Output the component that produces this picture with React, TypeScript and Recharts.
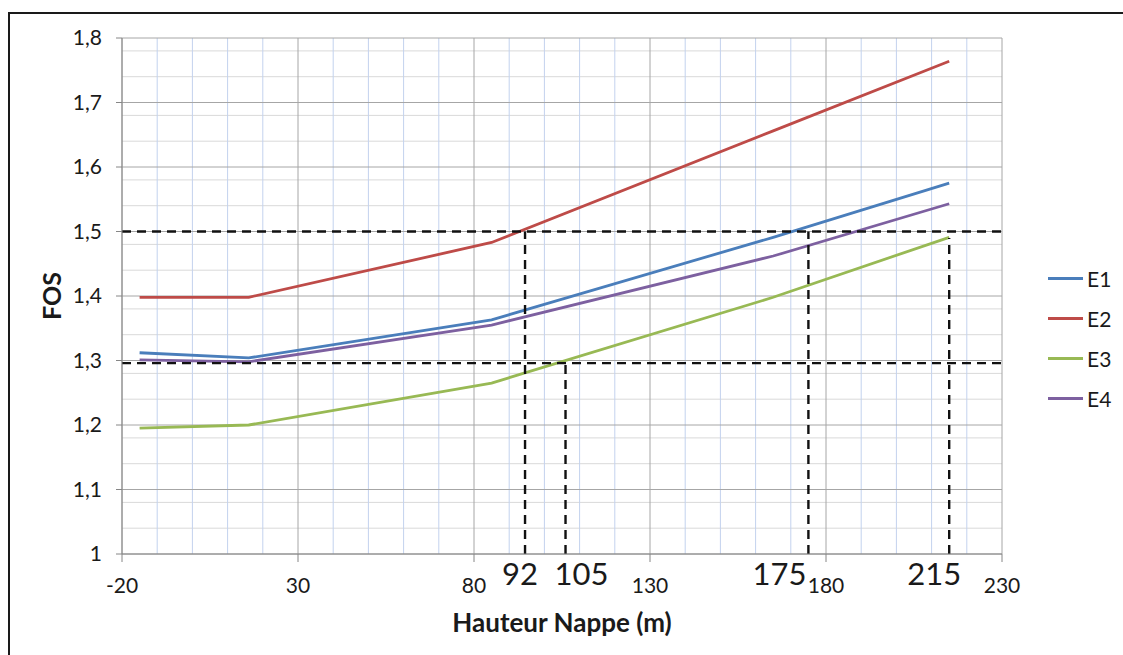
import {
  LineChart,
  Line,
  XAxis,
  YAxis,
  CartesianGrid,
  ReferenceLine,
  Legend,
} from "recharts";

// Hauteur nappe (m) for each computed point
const hauteur = [-15, 16, 85, 165, 215];
// FOS per scenario
const e1 = [1.312, 1.304, 1.363, 1.491, 1.575];
const e2 = [1.398, 1.398, 1.483, 1.656, 1.764];
const e3 = [1.195, 1.2, 1.265, 1.398, 1.491];
const e4 = [1.301, 1.298, 1.355, 1.462, 1.543];

const xTicks = [-20, 30, 80, 130, 180, 230];
const yTicks = [1, 1.1, 1.2, 1.3, 1.4, 1.5, 1.6, 1.7, 1.8];
const xMinor = [
  -10, 0, 10, 20, 40, 50, 60, 70, 90, 100, 110, 120, 140, 150, 160, 170, 190,
  200, 210, 220,
];
const yMinor = [
  1.02, 1.04, 1.06, 1.08, 1.12, 1.14, 1.16, 1.18, 1.22, 1.24, 1.26, 1.28,
  1.32, 1.34, 1.36, 1.38, 1.42, 1.44, 1.46, 1.48, 1.52, 1.54, 1.56, 1.58,
  1.62, 1.64, 1.66, 1.68, 1.72, 1.74, 1.76, 1.78,
];

// dashed threshold lines (FOS) and read-off heights
const seuils = [1.5, 1.296];
const repereX = [94.5, 106, 175, 215];
const repereHaut = [1.5, 1.296, 1.5, 1.49];
const repereLabels = ["92", "105", "175", "215"];

const series = [
  { key: "E1", color: "#4a7ebb" },
  { key: "E2", color: "#be4b48" },
  { key: "E3", color: "#98b954" },
  { key: "E4", color: "#7d60a0" },
];

const data = hauteur.map((h, i) => ({
  h,
  E1: e1[i],
  E2: e2[i],
  E3: e3[i],
  E4: e4[i],
}));

const font = "Lato, 'Open Sans', sans-serif";
const labelShift = [-5, 16, -29, -15];

const fmt = (v: number) => String(v).replace(".", ",");

function LegendBox() {
  return (
    <div style={{ fontFamily: font, fontSize: 21, color: "#1a1a1a" }}>
      {series.map((s) => (
        <div
          key={s.key}
          style={{ display: "flex", alignItems: "center", height: 40 }}>
          <span
            style={{
              display: "inline-block",
              width: 35,
              height: 3,
              background: s.color,
              marginRight: 4,
            }}
          />
          {s.key}
        </div>
      ))}
    </div>
  );
}

export default function App() {
  return (
    <div
      style={{
        position: "absolute",
        left: 0,
        top: 0,
        width: 1123,
        height: 655,
        overflow: "hidden",
        background: "#fff",
      }}>
      <div
        style={{
          position: "absolute",
          left: 8,
          top: 12,
          width: 1140,
          height: 680,
          border: "2px solid #1a1a1a",
        }}
      />
      <div style={{ position: "absolute", left: 0, top: 0 }}>
        <LineChart
          width={1123}
          height={655}
          data={data}
          margin={{ top: 38, right: 121, bottom: 61, left: 62 }}>
          <CartesianGrid
            horizontal
            vertical={false}
            horizontalValues={yMinor}
            stroke="#d9d9d9"
            strokeWidth={1}
          />
          <CartesianGrid
            horizontal={false}
            vertical
            verticalValues={xMinor}
            stroke="#c3d2ee"
            strokeWidth={1}
          />
          <CartesianGrid
            horizontalValues={yTicks}
            verticalValues={xTicks}
            stroke="#a6a6a6"
            strokeWidth={1}
          />
          <XAxis
            dataKey="h"
            type="number"
            domain={[-20, 230]}
            ticks={xTicks}
            height={40}
            stroke="#868686"
            tickSize={8}
            tickMargin={16}
            tick={{ fill: "#1a1a1a", fontSize: 21, fontFamily: font }}
            label={{
              value: "Hauteur Nappe (m)",
              position: "bottom",
              offset: 20,
              fill: "#1a1a1a",
              fontSize: 26,
              fontWeight: 700,
              fontFamily: font,
            }}
          />
          <YAxis
            type="number"
            domain={[1, 1.8]}
            ticks={yTicks}
            width={60}
            stroke="#868686"
            tickSize={6}
            tickMargin={14}
            tickFormatter={fmt}
            tick={{ fill: "#1a1a1a", fontSize: 21, fontFamily: font }}
            label={{
              value: "FOS",
              angle: -90,
              position: "insideLeft",
              offset: -10,
              fill: "#1a1a1a",
              fontSize: 25,
              fontWeight: 700,
              fontFamily: font,
              style: { textAnchor: "middle" },
            }}
          />
          {series.map((s) => (
            <Line
              key={s.key}
              type="linear"
              dataKey={s.key}
              stroke={s.color}
              strokeWidth={2.8}
              dot={false}
              isAnimationActive={false}
            />
          ))}
          {seuils.map((y) => (
            <ReferenceLine
              key={"h" + y}
              segment={[
                { x: -20, y },
                { x: 230, y },
              ]}
              stroke="#111"
              strokeWidth={2.4}
              strokeDasharray="9 6"
            />
          ))}
          {repereX.map((x, i) => (
            <ReferenceLine
              key={"v" + x}
              segment={[
                { x, y: 1 },
                { x, y: repereHaut[i] },
              ]}
              stroke="#111"
              strokeWidth={2.4}
              strokeDasharray="9 6"
              label={(p: any) => {
                const vb = p.viewBox || {};
                return (
                  <text
                    x={(vb.x ?? 0) + labelShift[i]}
                    y={(vb.y ?? 0) + (vb.height ?? 0) + 31}
                    textAnchor="middle"
                    fontSize={31}
                    fontFamily={font}
                    fill="#1a1a1a">
                    {repereLabels[i]}
                  </text>
                );
              }}
            />
          ))}
          <Legend
            layout="vertical"
            align="center"
            verticalAlign="middle"
            content={() => <LegendBox />}
            wrapperStyle={{ position: "absolute", left: 1048, top: 258, width: 70 }}
          />
        </LineChart>
      </div>
    </div>
  );
}
